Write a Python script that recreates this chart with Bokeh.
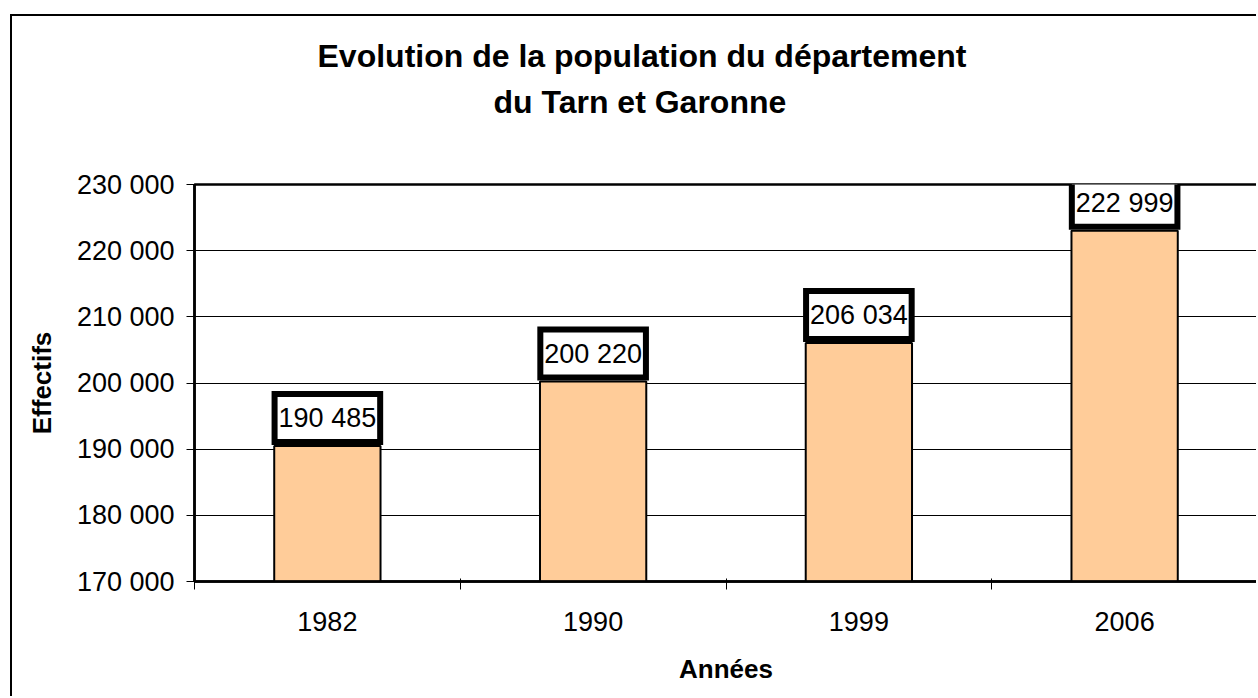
from bokeh.plotting import figure
from bokeh.models import Range1d, FixedTicker, Title
from bokeh.core.properties import value
from bokeh.embed import file_html
from bokeh.resources import INLINE

# ---- data ----
years = ["1982", "1990", "1999", "2006"]
population = [190485, 200220, 206034, 222999]
pop_labels = ["190 485", "200 220", "206 034", "222 999"]
y_ticks = [170000, 180000, 190000, 200000, 210000, 220000, 230000]
y_tick_labels = ["170 000", "180 000", "190 000", "200 000", "210 000", "220 000", "230 000"]
title_lines = ["Evolution de la population du département", "du Tarn et Garonne"]
x_title = "Années"
y_title = "Effectifs"

FONT = "Liberation Sans"
xs = [i + 0.5 for i in range(len(years))]

p = figure(width=1246, height=682, output_backend="svg", toolbar_location=None,
           x_range=Range1d(0, len(years)), y_range=Range1d(y_ticks[0], y_ticks[-1]),
           min_border_left=182, min_border_right=1, min_border_top=168, min_border_bottom=117)
p.margin = (14, 0, 0, 10)
p.styles = {"border-top": "2px solid black", "border-left": "2px solid black"}
p.title.visible = False
p.background_fill_color = "white"
p.border_fill_color = "white"
p.outline_line_color = "black"
p.outline_line_width = 2.5

p.xgrid.visible = False
p.ygrid.grid_line_color = "black"
p.ygrid.grid_line_width = 1

p.vbar(x=xs, top=population, bottom=y_ticks[0], width=0.4,
       fill_color="#FFCC99", line_color="black", line_width=2)

p.text(x=xs, y=population, text=pop_labels, text_align="center", text_baseline="middle",
       y_offset=-28, text_font=value(FONT), text_font_size="27px", text_color="black",
       background_fill_color="white", border_line_color="black", border_line_width=6,
       border_line_join="miter",
       padding=dict(left=4, right=4, top=9, bottom=9))

# y axis
ya = p.yaxis[0]
ya.ticker = FixedTicker(ticks=y_ticks)
ya.major_label_overrides = {t: l for t, l in zip(y_ticks, y_tick_labels)}
ya.major_label_text_font = FONT
ya.major_label_text_font_size = "27px"
ya.major_label_text_color = "black"
ya.major_tick_out = 8
ya.major_tick_in = 0
ya.major_tick_line_color = "black"
ya.minor_tick_line_color = None
ya.axis_line_color = "black"
ya.axis_line_width = 2.5
ya.major_label_standoff = 12
ya.axis_label = y_title
ya.axis_label_text_font = FONT
ya.axis_label_text_font_style = "bold"
ya.axis_label_text_font_size = "26px"
ya.axis_label_text_color = "black"
ya.axis_label_standoff = 17

# x axis
xa = p.xaxis[0]
xa.ticker = FixedTicker(ticks=xs, minor_ticks=list(range(len(years) + 1)))
xa.major_label_overrides = {x: y for x, y in zip(xs, years)}
xa.major_label_text_font = FONT
xa.major_label_text_font_size = "27px"
xa.major_label_text_color = "black"
xa.major_tick_out = 0
xa.major_tick_in = 0
xa.minor_tick_out = 8
xa.minor_tick_in = 3
xa.minor_tick_line_color = "black"
xa.axis_line_color = "black"
xa.axis_line_width = 2.5
xa.major_label_standoff = 22
xa.axis_label = x_title
xa.axis_label_text_font = FONT
xa.axis_label_text_font_style = "bold"
xa.axis_label_text_font_size = "26px"
xa.axis_label_text_color = "black"
xa.axis_label_standoff = 20

# empty spacer between the frame and the two title lines
p.add_layout(Title(text=" ", text_font=FONT, text_font_size="31px", standoff=24), "above")
# titles: second line first (closer to the frame), then first line above it
for t, off in [(title_lines[1], 299), (title_lines[0], 123)]:
    p.add_layout(Title(text=t, align="left", offset=off, text_font=FONT,
                       text_font_style="bold", text_font_size="32px",
                       text_color="black", standoff=8), "above")

open("out.html", "w").write(file_html(p, INLINE))
